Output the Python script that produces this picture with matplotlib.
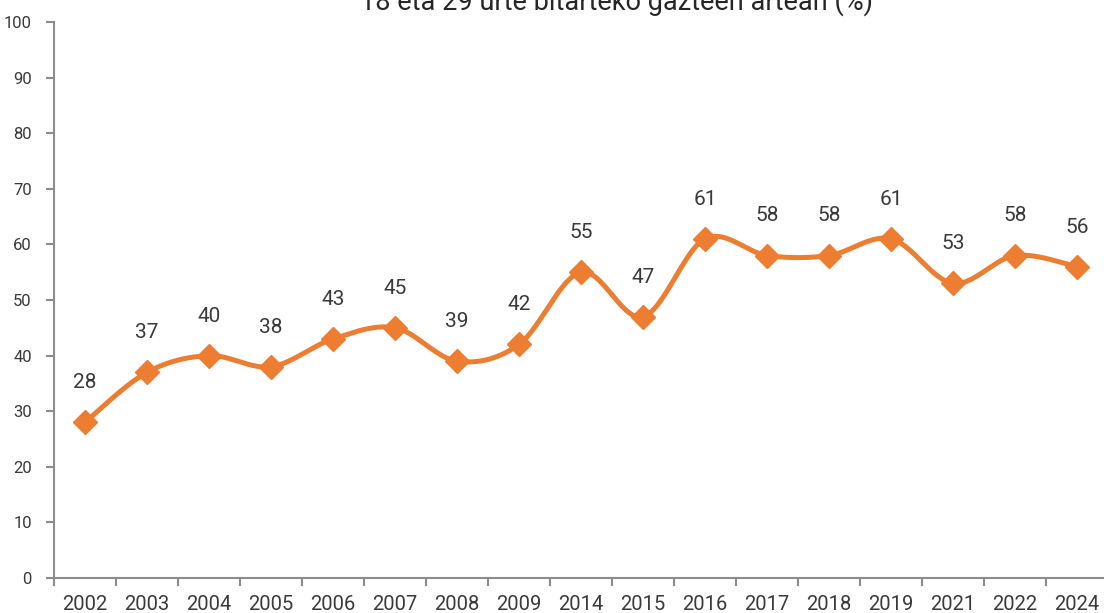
import numpy as np
import matplotlib.pyplot as plt

years = ["2002", "2003", "2004", "2005", "2006", "2007", "2008", "2009", "2014",
         "2015", "2016", "2017", "2018", "2019", "2021", "2022", "2024"]
values = [28, 37, 40, 38, 43, 45, 39, 42, 55, 47, 61, 58, 58, 61, 53, 58, 56]
title = "18 eta 29 urte bitarteko gazteen artean (%)"

orange = "#ED7D31"
grey = "#8c8c8c"
txt = "#3a3a3a"


def smooth(x, y, steps=30):
    # Excel-like smoothed line: cubic bezier with catmull-rom control points
    x = np.asarray(x, float)
    y = np.asarray(y, float)
    px = np.concatenate([[x[0]], x, [x[-1]]])
    py = np.concatenate([[y[0]], y, [y[-1]]])
    t = np.linspace(0, 1, steps)
    xs, ys = [], []
    for i in range(len(x) - 1):
        p0 = np.array([px[i], py[i]])
        p1 = np.array([px[i + 1], py[i + 1]])
        p2 = np.array([px[i + 2], py[i + 2]])
        p3 = np.array([px[i + 3], py[i + 3]])
        c1 = p1 + (p2 - p0) / 6.0
        c2 = p2 - (p3 - p1) / 6.0
        b = ((1 - t) ** 3)[:, None] * p1 + (3 * (1 - t) ** 2 * t)[:, None] * c1 \
            + (3 * (1 - t) * t ** 2)[:, None] * c2 + (t ** 3)[:, None] * p2
        xs.extend(b[:, 0])
        ys.extend(b[:, 1])
    return np.array(xs), np.array(ys)


plt.rcParams['font.family'] = ['Roboto', 'DejaVu Sans']

fig = plt.figure(figsize=(11.04, 6.13), dpi=100)
ax = fig.add_axes([54 / 1104, 1 - 578 / 613, 1054 / 1104, 556 / 613])

xpos = np.arange(len(years))
sx, sy = smooth(xpos, values)
ax.plot(sx, sy, color=orange, lw=3.6, solid_capstyle="round", zorder=2)
ax.plot(xpos, values, ls="none", marker="D", ms=12, color=orange, zorder=3)

for xi, v in zip(xpos, values):
    ax.annotate(str(v), (xi, v), xytext=(0, 28.5), textcoords="offset points",
                ha="center", va="center", fontsize=15, color=txt)

ax.set_xlim(-0.5, len(years) - 0.5)
ax.set_ylim(0, 100)
ax.set_yticks(range(0, 101, 10))
ax.set_xticks(xpos)
ax.set_xticklabels(years)
ax.set_xticks(np.arange(-0.5, len(years), 1), minor=True)
ax.tick_params(axis="x", which="major", length=0, pad=12, labelsize=14.5, labelcolor=txt)
ax.tick_params(axis="x", which="minor", length=6, color=grey, width=1.5)
ax.tick_params(axis="y", length=6, color=grey, width=1.5, labelsize=12, labelcolor=txt, pad=10)

for s in ["top", "right"]:
    ax.spines[s].set_visible(False)
for s in ["left", "bottom"]:
    ax.spines[s].set_color(grey)
    ax.spines[s].set_linewidth(1.5)

# title sits partly above the top edge, as in the source image
fig.text(0.558, 0.998, title, ha="center", va="center", fontsize=19.5, color="#262626")

plt.savefig("out.png", dpi=100)
